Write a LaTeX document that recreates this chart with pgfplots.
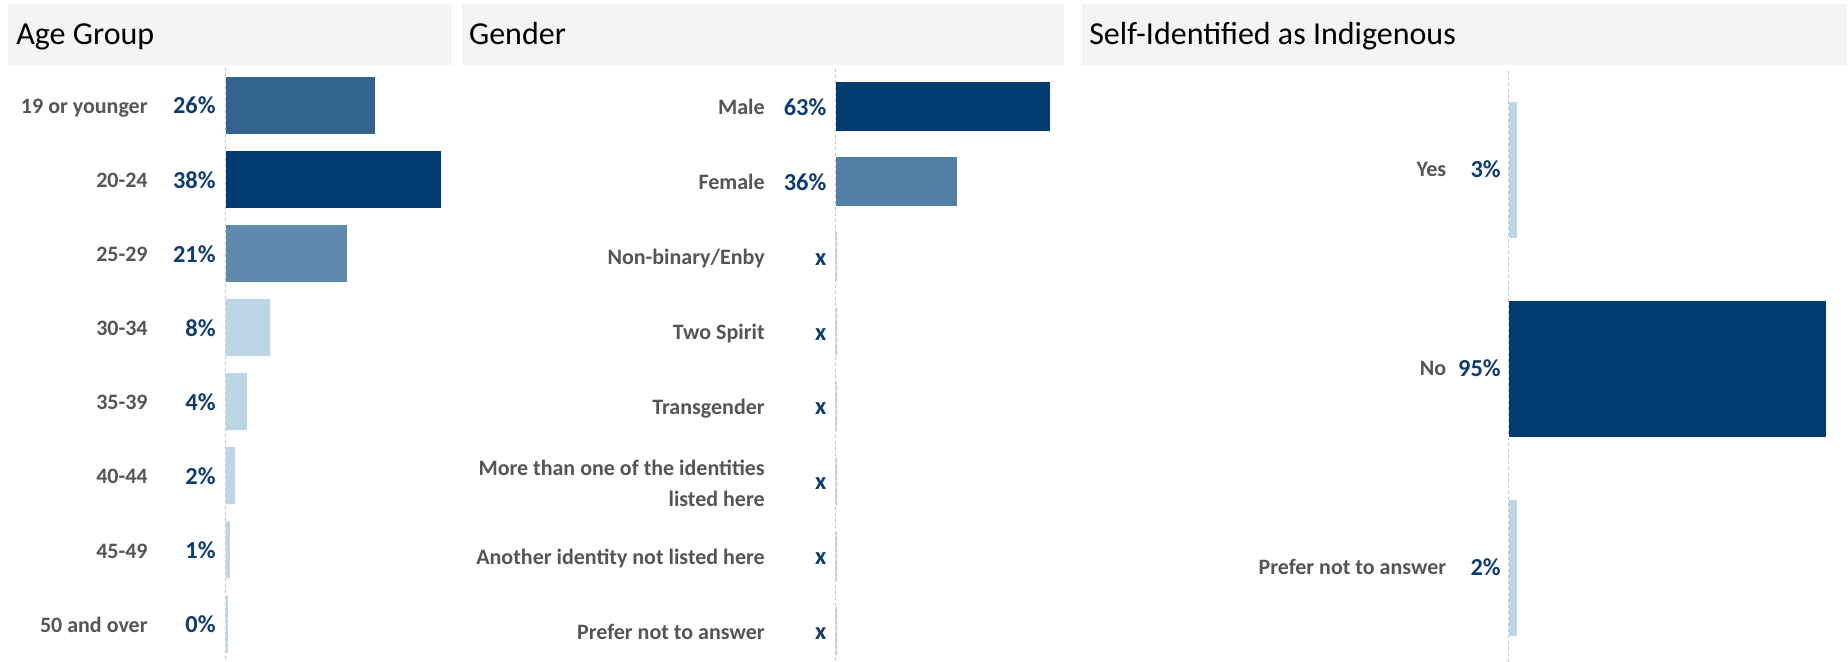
\documentclass[border=0pt]{standalone}
\usepackage{pgfplots}
\pgfplotsset{compat=1.18}
\usepackage{fontspec}
\setmainfont{Carlito}
\renewcommand{\arraystretch}{1.15}
\definecolor{cdark}{HTML}{023B70}
\definecolor{cmid}{HTML}{33638F}
\definecolor{cmid2}{HTML}{608AAD}
\definecolor{cfem}{HTML}{527FA6}
\definecolor{clight}{HTML}{BCD6E6}
\definecolor{pctblue}{HTML}{0E3B72}
\definecolor{labgrey}{HTML}{555555}
\definecolor{band}{HTML}{F4F4F4}
\definecolor{dashgrey}{HTML}{C4C4C4}
\newcommand\titlefont{\fontsize{16}{19}\selectfont}
\newcommand\labfont{\bfseries\fontsize{11}{13.7}\selectfont}
\newcommand\pctfont{\bfseries\fontsize{12.2}{14}\selectfont}
\pgfplotsset{
  panel/.style={scale only axis, anchor=north west, y dir=reverse,
    axis x line=none, axis y line*=left,
    y axis line style={draw=dashgrey, line width=0.5pt, dash pattern=on 1.5pt off 1.5pt},
    xmin=0, ymin=-0.5, major tick length=0pt, tick align=inside, clip=false,
    yticklabel style={anchor=base east, inner sep=0pt, font=\labfont, text=labgrey}},
  hb/.style={xbar, bar shift=0pt, draw=none, fill=#1},
  pct/.style 2 args={draw=none, point meta=explicit,
    nodes near coords={\pgfmathprintnumber[fixed,precision=0,assume math mode=true]{\pgfplotspointmeta}\%},
    nodes near coords style={anchor=base east, inner sep=0pt, xshift=#1, yshift=#2, font=\pctfont, text=pctblue}},
  pctx/.style 2 args={draw=none, point meta=explicit symbolic,
    nodes near coords style={anchor=base east, inner sep=0pt, xshift=#1, yshift=#2, font=\pctfont, text=pctblue}, nodes near coords}
}
\begin{document}
\begin{tikzpicture}[x=1pt,y=1pt]
\fill[white] (0,0) rectangle (924,-330.5);
\fill[band] (4,-2) rectangle (226,-32.5);
\fill[band] (231,-2) rectangle (532,-32.5);
\fill[band] (541,-2) rectangle (923.5,-32.5);
\node[anchor=base west, inner sep=0pt, font=\titlefont] at (8,-22.15) {Age Group};
\node[anchor=base west, inner sep=0pt, font=\titlefont] at (234.35,-22.15) {Gender};
\node[anchor=base west, inner sep=0pt, font=\titlefont] at (544.45,-22.15) {Self-Identified as Indigenous};

% Age Group
\begin{axis}[panel, at={(113pt,-34pt)}, width=113pt, height=296.5pt, xmax=40, ymax=7.5,
  ytick={0,...,7}, yticklabels={19 or younger,20-24,25-29,30-34,35-39,40-44,45-49,50 and over},
  yticklabel style={xshift=-39pt, yshift=-4.1pt}]
\addplot[hb=cmid, bar width=0.77] coordinates {(26.3,0)};
\addplot[hb=cdark, bar width=0.77] coordinates {(38,1)};
\addplot[hb=cmid2, bar width=0.77] coordinates {(21.4,2)};
\addplot[hb=clight, bar width=0.77] coordinates {(7.8,3) (3.7,4) (1.6,5) (0.7,6) (0.35,7)};
\addplot[pct={-5pt}{-4.4pt}] coordinates {(0,0) [26.3] (0,1) [38] (0,2) [21.4] (0,3) [7.8] (0,4) [3.7] (0,5) [1.6] (0,6) [0.7] (0,7) [0.35]};
\end{axis}

% Gender
\begin{axis}[panel, at={(417.75pt,-34.65pt)}, width=114.25pt, height=299.6pt, xmax=67.1, ymax=7.5,
  ytick={0,...,7}, yticklabels={Male,Female,Non-binary/Enby,Two Spirit,Transgender,{\raisebox{6.95pt}{\begin{tabular}[t]{@{}r@{}}More than one of the identities\\listed here\end{tabular}}},Another identity not listed here,Prefer not to answer},
  yticklabel style={xshift=-35.2pt, yshift=-4pt}]
\addplot[hb=cdark, bar width=0.65] coordinates {(63,0)};
\addplot[hb=cfem, bar width=0.65] coordinates {(35.7,1)};
\addplot[hb=clight, bar width=0.65] coordinates {(0.5,2) (0.5,3) (0.5,4) (0.5,5) (0.5,6) (0.5,7)};
\addplot[pct={-4.4pt}{-4.3pt}] coordinates {(0,0) [63] (0,1) [35.7]};
\addplot[pctx={-4.4pt}{-4.3pt}] coordinates {(0,2) [x] (0,3) [x] (0,4) [x] (0,5) [x] (0,6) [x] (0,7) [x]};
\end{axis}

% Indigenous
\begin{axis}[panel, at={(754.3pt,-35.25pt)}, width=167.3pt, height=298.5pt, xmax=100, ymax=2.5,
  ytick={0,1,2}, yticklabels={Yes,No,Prefer not to answer},
  yticklabel style={xshift=-31pt, yshift=-3.4pt}]
\addplot[hb=clight, bar width=0.683] coordinates {(2.6,0)};
\addplot[hb=cdark, bar width=0.683] coordinates {(95,1)};
\addplot[hb=clight, bar width=0.683] coordinates {(2.4,2)};
\addplot[pct={-3.75pt}{-3.7pt}] coordinates {(0,0) [2.6] (0,1) [95] (0,2) [2.4]};
\end{axis}
\pgfresetboundingbox
\useasboundingbox (0,0) rectangle (924,-330.5);
\end{tikzpicture}
\end{document}
